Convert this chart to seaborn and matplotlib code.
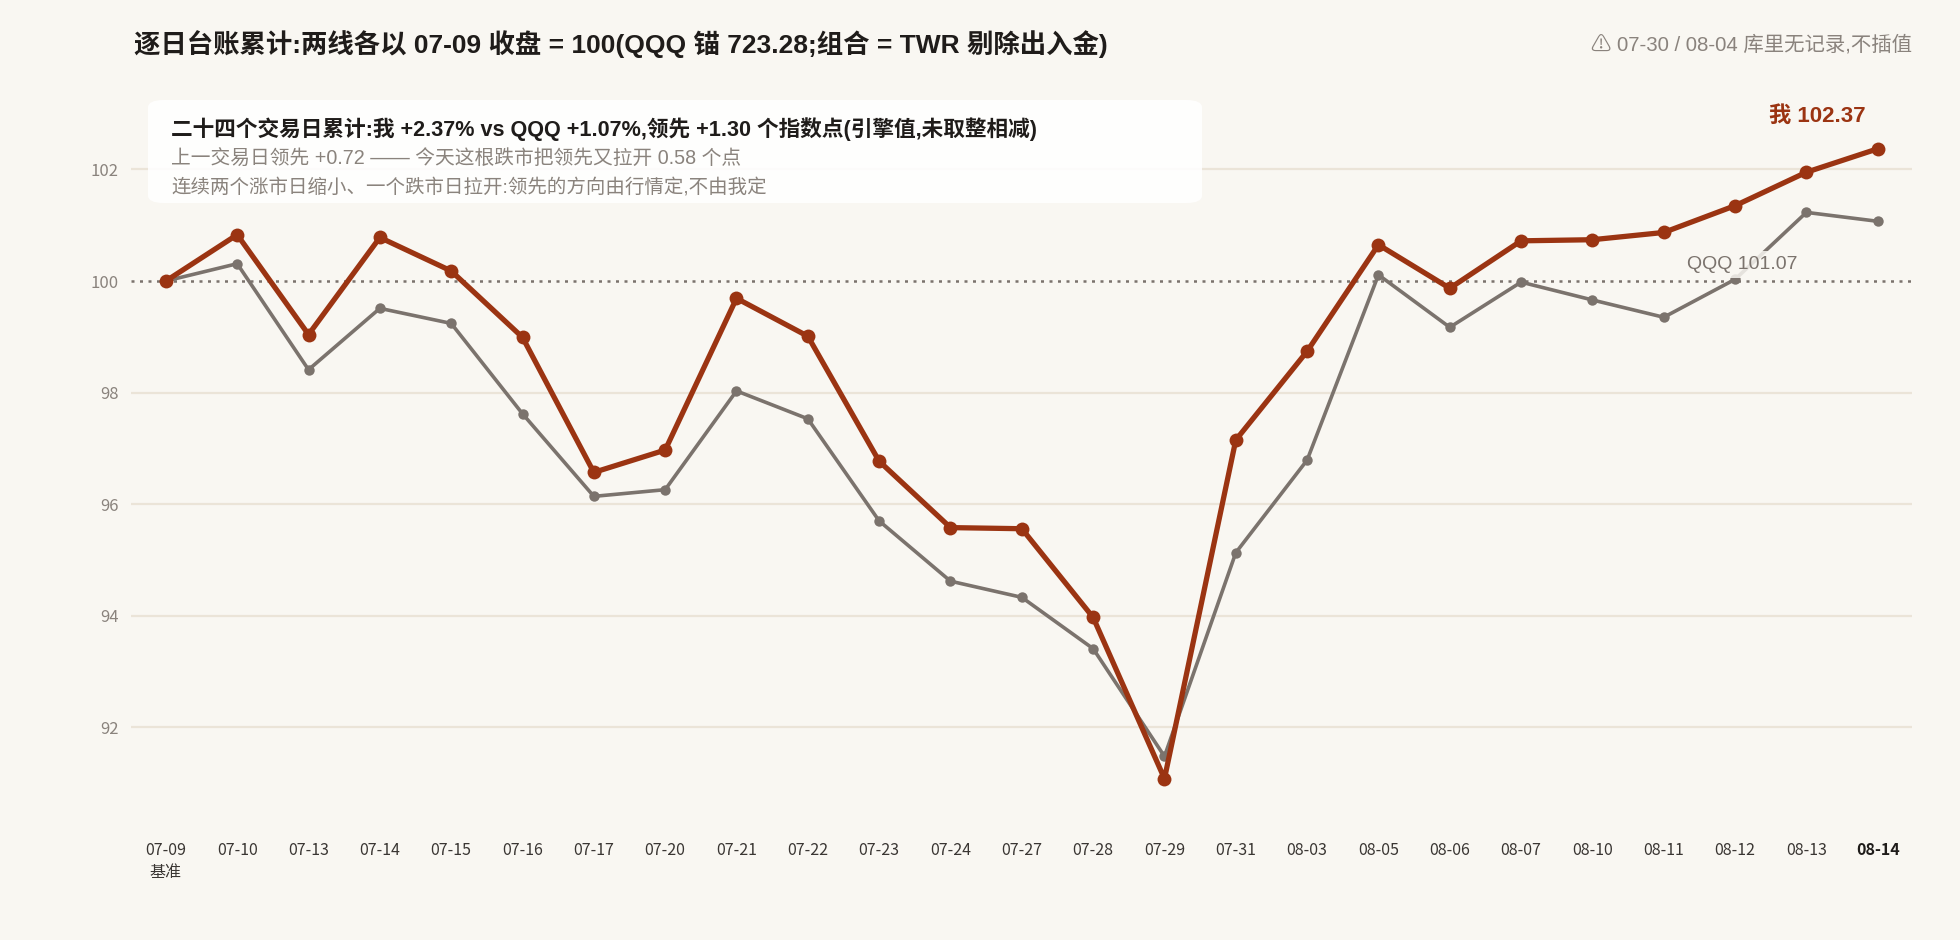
import matplotlib

matplotlib.use("Agg")
import matplotlib.pyplot as plt
from matplotlib.patches import FancyBboxPatch
import pandas as pd
import seaborn as sns

DATES = ["07-09", "07-10", "07-13", "07-14", "07-15", "07-16", "07-17", "07-20",
         "07-21", "07-22", "07-23", "07-24", "07-27", "07-28", "07-29", "07-31",
         "08-03", "08-05", "08-06", "08-07", "08-10", "08-11", "08-12", "08-13",
         "08-14"]
ME = [100.00, 100.83, 99.04, 100.78, 100.18, 98.99, 96.57, 96.97,
      99.69, 99.01, 96.77, 95.58, 95.56, 93.97, 91.08, 97.15,
      98.74, 100.65, 99.87, 100.72, 100.74, 100.87, 101.35, 101.95,
      102.37]
QQQ = [100.00, 100.31, 98.41, 99.51, 99.24, 97.62, 96.14, 96.26,
       98.03, 97.53, 95.70, 94.62, 94.33, 93.41, 91.48, 95.13,
       96.79, 100.11, 99.17, 99.98, 99.66, 99.35, 100.03, 101.23,
       101.07]
Y_TICKS = [92, 94, 96, 98, 100, 102]

TITLE = "逐日台账累计:两线各以 07-09 收盘 = 100(QQQ 锚 723.28;组合 = TWR 剔除出入金)"
NOTE = "⚠ 07-30 / 08-04 库里无记录,不插值"
BOX_LINES = [
    "二十四个交易日累计:我 +2.37% vs QQQ +1.07%,领先 +1.30 个指数点(引擎值,未取整相减)",
    "上一交易日领先 +0.72 —— 今天这根跌市把领先又拉开 0.58 个点",
    "连续两个涨市日缩小、一个跌市日拉开:领先的方向由行情定,不由我定",
]

BG = "#f9f7f2"
RED = "#9b3412"
GRAY = "#7b736d"
GRID = "#ebe4d8"
TEXT_FONT = ["Liberation Sans", "Noto Sans CJK SC", "DejaVu Sans"]

sns.set_theme(style="white")
plt.rcParams["font.family"] = ["Noto Sans CJK SC", "DejaVu Sans"]

df = pd.DataFrame({"idx": range(len(DATES)), "date": DATES, "me": ME, "qqq": QQQ})

fig = plt.figure(figsize=(19.6, 9.4), dpi=100, facecolor=BG)
ax = fig.add_axes([0.0668, 0.1372, 0.9087, 0.7716])
ax.set_facecolor(BG)

for y in Y_TICKS:
    if y != 100:
        ax.axhline(y, color=GRID, linewidth=1.6, zorder=0)
ax.axhline(100, color=GRAY, linewidth=1.8, linestyle=(0, (1.2, 2.2)), zorder=1)

sns.lineplot(data=df, x="idx", y="qqq", color=GRAY, linewidth=2.6, marker="o",
             markersize=7.5, markeredgewidth=0, ax=ax, zorder=3)
sns.lineplot(data=df, x="idx", y="me", color=RED, linewidth=3.8, marker="o",
             markersize=10, markeredgewidth=0, ax=ax, zorder=4)

ax.set_xlim(-0.49, len(DATES) - 1 + 0.48)
ax.set_ylim(90.5, 103.5)
ax.set_xticks(df["idx"])
labels = [d + "\n基准" if i == 0 else d for i, d in enumerate(DATES)]
ax.set_xticklabels(labels, fontsize=11.5, color="#3a3633", linespacing=1.45)
ax.get_xticklabels()[-1].set_fontweight("bold")
ax.get_xticklabels()[-1].set_color("#1f1c1a")
ax.set_yticks(Y_TICKS)
ax.set_yticklabels([str(v) for v in Y_TICKS], fontsize=12, color="#8a837d")
ax.tick_params(axis="x", length=0, pad=22)
ax.tick_params(axis="y", length=0, pad=9)
ax.set_xlabel("")
ax.set_ylabel("")
sns.despine(ax=ax, left=True, bottom=True)

# end labels
last = len(DATES) - 1
ax.annotate(f"我 {ME[-1]:.2f}", (last, ME[-1]), xytext=(-9, 16), textcoords="offset points",
            ha="right", va="bottom", fontsize=16, fontweight="bold", color=RED, zorder=6,
            family=TEXT_FONT)
ax.annotate(f"QQQ {QQQ[-1]:.2f}", (last, QQQ[-1]), xytext=(-58, -31), textcoords="offset points",
            ha="right", va="center", fontsize=14, color=GRAY, zorder=6, family=TEXT_FONT,
            bbox=dict(boxstyle="square,pad=0.25", facecolor=BG, edgecolor="none", alpha=0.85))

# header texts
fig.text(134 / 1960, 1 - 44 / 940, TITLE, fontsize=19, fontweight="bold",
         color="#1f1c1a", ha="left", va="center", family=TEXT_FONT)
fig.text(1912 / 1960, 1 - 45 / 940, NOTE, fontsize=14.7, color="#8a837d",
         ha="right", va="center", family=TEXT_FONT)

# summary box
box = FancyBboxPatch((148 / 1960, 1 - 203 / 940), (1202 - 148) / 1960, (203 - 100) / 940,
                     boxstyle="round,pad=0,rounding_size=0.008", transform=fig.transFigure,
                     facecolor="white", edgecolor="none", alpha=0.88, zorder=5)
fig.patches.append(box)
fig.text(171 / 1960, 1 - 129 / 940, BOX_LINES[0], fontsize=15.6, fontweight="bold",
         color="#1f1c1a", ha="left", va="center", zorder=6, family=TEXT_FONT)
fig.text(171 / 1960, 1 - 159 / 940, BOX_LINES[1], fontsize=14.2, color="#8a837d",
         ha="left", va="center", zorder=6, family=TEXT_FONT)
fig.text(171 / 1960, 1 - 187 / 940, BOX_LINES[2], fontsize=14, color="#8a837d",
         ha="left", va="center", zorder=6, family=TEXT_FONT)

fig.savefig("out.png", dpi=100, facecolor=BG)
